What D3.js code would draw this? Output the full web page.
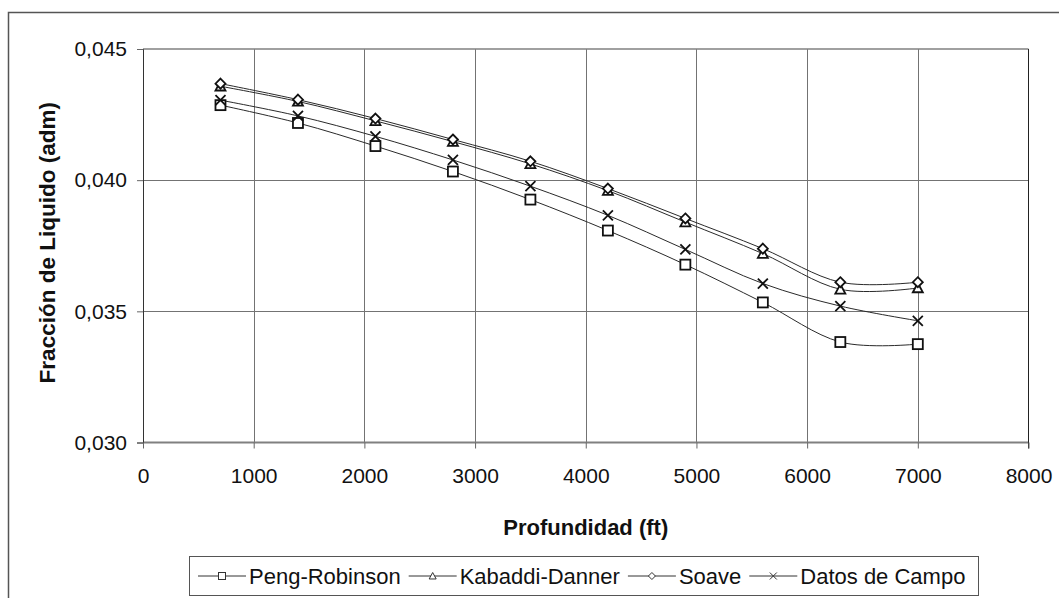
<!DOCTYPE html>
<html>
<head>
<meta charset="utf-8">
<script src="https://cdn.jsdelivr.net/npm/d3@7"></script>
<style>
  html, body { margin: 0; padding: 0; background: #fff; }
  svg { display: block; font-family: "Liberation Sans", Arial, sans-serif; }
</style>
</head>
<body>
<svg id="chart" width="1059" height="598"></svg>
<script>
// ---- data ----
const depth = [700, 1400, 2100, 2800, 3500, 4200, 4900, 5600, 6300, 7000];
const pengRobinson = [0.04286, 0.04218, 0.04130, 0.04033, 0.03926, 0.03808, 0.03678, 0.03534, 0.03383, 0.03375];
const kabaddiDanner = [0.04358, 0.04300, 0.04226, 0.04147, 0.04062, 0.03960, 0.03840, 0.03720, 0.03584, 0.03589];
const soave = [0.04368, 0.04307, 0.04235, 0.04155, 0.04072, 0.03968, 0.03854, 0.03739, 0.03611, 0.03611];
const datosCampo = [0.04305, 0.04245, 0.04167, 0.04077, 0.03977, 0.03866, 0.03736, 0.03606, 0.03520, 0.03464];
const seriesNames = ["Peng-Robinson", "Kabaddi-Danner", "Soave", "Datos de Campo"];
const seriesMarkers = ["square", "triangle", "diamond", "cross"];
const xTicks = [0, 1000, 2000, 3000, 4000, 5000, 6000, 7000, 8000];
const yTicks = [0.030, 0.035, 0.040, 0.045];
const xTitle = "Profundidad (ft)";
const yTitle = "Fracción de Liquido (adm)";

const seriesValues = [pengRobinson, kabaddiDanner, soave, datosCampo];

// ---- layout ----
const svg = d3.select("#chart");
const pL = 143, pR = 1028.5, pT = 49, pB = 442.5;
const x = d3.scaleLinear().domain([0, 8000]).range([pL, pR]);
const y = d3.scaleLinear().domain([0.030, 0.045]).range([pB, pT]);

// outer chart border (cropped on right / bottom)
svg.append("path")
  .attr("d", `M8.5,${600} L8.5,12.5 L${1070},12.5`)
  .attr("fill", "none").attr("stroke", "#555").attr("stroke-width", 1.5);

// gridlines
const grid = svg.append("g");
grid.selectAll("line.vx").data(xTicks.filter(t => t > 0 && t < 8000)).enter()
  .append("line")
  .attr("x1", d => Math.round(x(d)) + 0.5).attr("x2", d => Math.round(x(d)) + 0.5)
  .attr("y1", pT).attr("y2", pB)
  .attr("stroke", "#737373").attr("stroke-width", 1);
grid.selectAll("line.hy").data(yTicks.filter(t => t > 0.030 && t < 0.045)).enter()
  .append("line")
  .attr("y1", d => Math.round(y(d)) + 0.5).attr("y2", d => Math.round(y(d)) + 0.5)
  .attr("x1", pL).attr("x2", pR)
  .attr("stroke", "#737373").attr("stroke-width", 1);

// plot area border
svg.append("line").attr("x1", pL).attr("x2", pR).attr("y1", pT).attr("y2", pT)
  .attr("stroke", "#808080").attr("stroke-width", 1.5);
svg.append("line").attr("x1", pL).attr("x2", pR).attr("y1", pB).attr("y2", pB)
  .attr("stroke", "#808080").attr("stroke-width", 2);
svg.append("line").attr("x1", pR).attr("x2", pR).attr("y1", pT).attr("y2", pB + 6)
  .attr("stroke", "#222").attr("stroke-width", 1);

// axes
const fmtY = v => d3.format(".3f")(v).replace(".", ",");
const yAxis = svg.append("g").attr("transform", `translate(${pL},0)`)
  .call(d3.axisLeft(y).tickValues(yTicks).tickFormat(fmtY).tickSize(6).tickPadding(10));
yAxis.select(".domain").attr("stroke", "#333").attr("stroke-width", 1);
yAxis.selectAll(".tick line").attr("stroke", "#666");
yAxis.selectAll(".tick text").attr("font-size", 21).attr("fill", "#111")
  .attr("font-family", "Liberation Sans, Arial, sans-serif");

const xAxis = svg.append("g").attr("transform", `translate(0,${pB})`)
  .call(d3.axisBottom(x).tickValues(xTicks).tickFormat(d3.format("d")).tickSize(6).tickPadding(20));
xAxis.select(".domain").remove();
xAxis.selectAll(".tick line").attr("stroke", "#666");
xAxis.selectAll(".tick text").attr("font-size", 21).attr("fill", "#111")
  .attr("font-family", "Liberation Sans, Arial, sans-serif");

// axis titles
svg.append("text").attr("x", (pL + pR) / 2).attr("y", 535)
  .attr("text-anchor", "middle").attr("font-size", 22).attr("font-weight", "bold")
  .attr("fill", "#111").text(xTitle);
svg.append("text").attr("transform", `translate(55,${(pT + pB) / 2 - 3}) rotate(-90)`)
  .attr("text-anchor", "middle").attr("font-size", 22.5).attr("font-weight", "bold")
  .attr("fill", "#111").text(yTitle);

// markers
function drawMarker(g, type, cx, cy, s, sw, stroke) {
  const h = s / 2;
  if (type === "square") {
    g.append("rect").attr("x", cx - h).attr("y", cy - h).attr("width", s).attr("height", s)
      .attr("fill", "#fff").attr("stroke", stroke).attr("stroke-width", sw);
  } else if (type === "triangle") {
    g.append("path").attr("d", `M${cx},${cy - h} L${cx + h},${cy + h * 0.85} L${cx - h},${cy + h * 0.85} Z`)
      .attr("fill", "#fff").attr("stroke", stroke).attr("stroke-width", sw);
  } else if (type === "diamond") {
    g.append("path").attr("d", `M${cx},${cy - h} L${cx + h},${cy} L${cx},${cy + h} L${cx - h},${cy} Z`)
      .attr("fill", "#fff").attr("stroke", stroke).attr("stroke-width", sw);
  } else {
    g.append("path").attr("d", `M${cx - h},${cy - h} L${cx + h},${cy + h} M${cx - h},${cy + h} L${cx + h},${cy - h}`)
      .attr("fill", "none").attr("stroke", stroke).attr("stroke-width", sw);
  }
}

// series lines
const line = d3.line().x(d => x(d[0])).y(d => y(d[1])).curve(d3.curveCardinal.tension(0));
const plot = svg.append("g");
seriesValues.forEach((vals, i) => {
  const pts = depth.map((d, j) => [d, vals[j]]);
  plot.append("path").attr("d", line(pts)).attr("fill", "none")
    .attr("stroke", "#2a2a2a").attr("stroke-width", 1);
});
seriesValues.forEach((vals, i) => {
  const g = plot.append("g");
  depth.forEach((d, j) => drawMarker(g, seriesMarkers[i], x(d), y(vals[j]), 10, 1.8, "#111"));
});

// legend
const legend = svg.append("g");
legend.append("rect").attr("x", 189.5).attr("y", 556.5).attr("width", 789).attr("height", 39)
  .attr("fill", "#fff").attr("stroke", "#555").attr("stroke-width", 1);
let lx = 198;
const ly = 576;
seriesNames.forEach((name, i) => {
  const g = legend.append("g");
  g.append("line").attr("x1", lx).attr("x2", lx + 48).attr("y1", ly).attr("y2", ly)
    .attr("stroke", "#333").attr("stroke-width", 1);
  drawMarker(g, seriesMarkers[i], lx + 24, ly, 7, 1, "#333");
  const t = g.append("text").attr("x", lx + 51).attr("y", ly + 7.5)
    .attr("font-size", 22).attr("fill", "#111").text(name);
  lx += 51 + t.node().getComputedTextLength() + 8;
});
</script>
</body>
</html>
